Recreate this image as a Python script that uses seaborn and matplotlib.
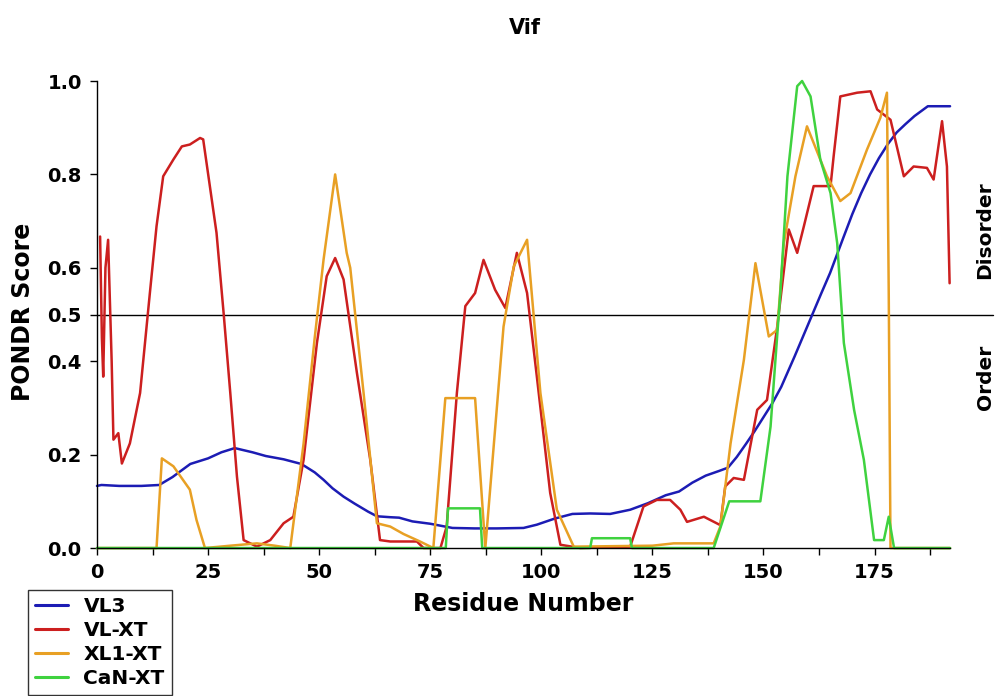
import matplotlib
matplotlib.use("Agg")
import matplotlib.pyplot as plt
import seaborn as sns
import pandas as pd

# ---------------- data ----------------
vl3_x = [0, 1, 5, 10, 14, 17, 21, 25, 28, 31, 35, 38, 42, 46, 49, 51, 53, 55.5, 58, 61, 63, 66, 68, 71, 75,
         80, 85, 90, 96, 99, 103, 107, 111, 115.5, 120, 124, 128, 131, 134, 137, 140, 142, 144, 146, 148,
         150, 152, 154, 157, 159, 161, 163, 165, 168, 170, 172, 174, 176, 178, 180, 182, 184, 187, 190, 192]
vl3_y = [0.133, 0.135, 0.133, 0.133, 0.135, 0.152, 0.18, 0.192, 0.205, 0.214, 0.205, 0.197, 0.19, 0.18,
         0.162, 0.146, 0.128, 0.11, 0.095, 0.078, 0.068, 0.066, 0.065, 0.057, 0.052, 0.043, 0.042, 0.042,
         0.043, 0.05, 0.063, 0.073, 0.074, 0.073, 0.082, 0.096, 0.113, 0.121, 0.14, 0.155, 0.165, 0.172,
         0.195, 0.222, 0.25, 0.28, 0.31, 0.345, 0.41, 0.455, 0.5, 0.545, 0.589, 0.665, 0.715, 0.76, 0.8,
         0.835, 0.865, 0.89, 0.908, 0.925, 0.946, 0.946, 0.946]

vlxt_x = [0.7, 1.1, 1.4, 1.9, 2.5, 2.9, 3.3, 3.7, 4.8, 5.6, 7.4, 9.7, 11.9, 13.4, 14.9, 17.2, 19.1, 20.9,
          23.2, 23.9, 25.4, 26.9, 28.5, 30, 31.5, 33, 36, 39, 42, 44.2, 46.5, 49.5, 51.7, 53.6, 55.5, 58.5,
          61.5, 63.7, 66, 72, 73.5, 77.3, 78.7, 81, 82.9, 85.1, 87, 89.6, 91.9, 94.5, 96.8, 99, 102, 104.3,
          108.8, 120, 123, 126, 129, 131.3, 132.8, 136.6, 140.3, 141.4, 143.3, 145.6, 148.6, 150.8, 153.1,
          155.7, 157.6, 159.1, 161.3, 165.1, 165.8, 167.3, 171.1, 174.1, 175.6, 178.6, 181.6, 183.8, 186.8,
          188.3, 190.2, 191.3, 191.9]
vlxt_y = [0.667, 0.45, 0.367, 0.6, 0.66, 0.53, 0.4, 0.232, 0.246, 0.181, 0.224, 0.332, 0.546, 0.689, 0.796,
          0.832, 0.86, 0.864, 0.878, 0.875, 0.775, 0.675, 0.503, 0.332, 0.153, 0.017, 0.003, 0.017, 0.053,
          0.067, 0.189, 0.439, 0.582, 0.621, 0.575, 0.375, 0.189, 0.017, 0.014, 0.014, 0.0, 0.0, 0.046, 0.332,
          0.518, 0.546, 0.617, 0.553, 0.514, 0.632, 0.546, 0.367, 0.118, 0.007, 0.0, 0.003, 0.089, 0.103,
          0.103, 0.082, 0.056, 0.067, 0.049, 0.132, 0.15, 0.146, 0.296, 0.317, 0.474, 0.682, 0.632, 0.689,
          0.775, 0.775, 0.839, 0.967, 0.975, 0.978, 0.939, 0.917, 0.796, 0.817, 0.814, 0.789, 0.914, 0.817,
          0.567]

xl1_x = [0, 13.4, 14.6, 17.2, 20.9, 22.4, 24.3, 30, 36, 40, 43.5, 46.5, 49, 51, 53.6, 56.2, 57, 60, 63, 66,
         69, 72.7, 75.7, 78.4, 85.1, 87.4, 91.5, 93.8, 96.8, 99.8, 103.5, 107.3, 125, 129.8, 138.8, 140.3,
         142.6, 145.6, 148.2, 151.2, 153.1, 154.6, 157.2, 159.8, 164.3, 167.3, 169.6, 173.3, 176.3, 177.8,
         178.2, 178.6, 192]
xl1_y = [0, 0, 0.192, 0.175, 0.125, 0.06, 0, 0.005, 0.01, 0.005, 0, 0.224, 0.45, 0.618, 0.8, 0.632, 0.6,
         0.332, 0.053, 0.046, 0.03, 0.014, 0, 0.321, 0.321, 0, 0.474, 0.603, 0.66, 0.332, 0.082, 0.003,
         0.005, 0.01, 0.01, 0.046, 0.224, 0.403, 0.61, 0.453, 0.467, 0.653, 0.796, 0.903, 0.796, 0.743,
         0.76, 0.853, 0.921, 0.975, 0.546, 0, 0]

can_x = [0, 78.5, 79, 86.2, 86.7, 111, 111.4, 120, 120.4, 138.8, 142.3, 149.3, 151.6, 153.8, 155.4, 157.6,
         158.7, 160.6, 162.8, 165.1, 166.6, 168.1, 170.4, 172.6, 174.9, 177.1, 178.2, 179.4, 192]
can_y = [0, 0, 0.085, 0.085, 0, 0, 0.021, 0.021, 0, 0, 0.1, 0.1, 0.26, 0.546, 0.796, 0.989, 1.0, 0.967,
         0.832, 0.76, 0.653, 0.439, 0.296, 0.189, 0.017, 0.017, 0.067, 0, 0]

series_names = ["VL3", "VL-XT", "XL1-XT", "CaN-XT"]
colors = ["#1c1cb4", "#cc1f1f", "#e8a024", "#3fd23f"]

x_ticks = [0, 25, 50, 75, 100, 125, 150, 175]
y_ticks = [0.0, 0.2, 0.4, 0.5, 0.6, 0.8, 1.0]
y_tick_labels = ["0.0", "0.2", "0.4", "0.5", "0.6", "0.8", "1.0"]

frames = []
for name, xs, ys in zip(series_names, [vl3_x, vlxt_x, xl1_x, can_x], [vl3_y, vlxt_y, xl1_y, can_y]):
    frames.append(pd.DataFrame({"Residue": xs, "Score": ys, "Predictor": name}))
df = pd.concat(frames, ignore_index=True)

# ---------------- plot ----------------
sns.set_style("white")
plt.rcParams["font.family"] = ["DejaVu Sans"]
plt.rcParams["font.weight"] = "bold"
for key in ["text.color", "axes.labelcolor", "xtick.color", "ytick.color"]:
    plt.rcParams[key] = "black"

fig = plt.figure(figsize=(10.01, 6.96), dpi=100)
ax = fig.add_axes([0.0969, 0.2126, 0.8522, 0.671])

sns.lineplot(data=df, x="Residue", y="Score", hue="Predictor", hue_order=series_names,
             palette=dict(zip(series_names, colors)), estimator=None, sort=False,
             linewidth=1.8, ax=ax, legend=True)
for ln in ax.lines:
    ln.set_clip_on(False)

ax.axhline(0.5, xmin=0, xmax=1.05, color="black", linewidth=1.0, zorder=0, clip_on=False)

ax.set_xlim(0, 192)
ax.set_ylim(0, 1.0)
ax.set_xticks(x_ticks)
ax.set_xticks([12.5 + 25 * i for i in range(8)], minor=True)
ax.set_yticks(y_ticks)
ax.set_yticklabels(y_tick_labels)
ax.tick_params(axis="both", which="both", direction="out", length=5, width=1, color="black",
               bottom=True, left=True, pad=6)
ax.tick_params(axis="both", labelsize=14, labelcolor="black")
for lab in ax.get_xticklabels() + ax.get_yticklabels():
    lab.set_fontweight("bold")

for s in ["top", "right"]:
    ax.spines[s].set_visible(False)
for s in ["left", "bottom"]:
    ax.spines[s].set_color("black")
    ax.spines[s].set_linewidth(1.0)

ax.set_xlabel("Residue Number", fontsize=17, fontweight="bold", color="black")
ax.xaxis.set_label_coords((97 + 950) / 2 / 1001, 1 - 592 / 696, transform=fig.transFigure)
ax.set_ylabel("PONDR Score", fontsize=17, fontweight="bold", color="black")
ax.yaxis.set_label_coords(35 / 1001, 1 - 312 / 696, transform=fig.transFigure)

fig.text(525 / 1001, 1 - 28 / 696, "Vif", ha="center", va="center", fontsize=15, fontweight="bold",
         color="black")

ax.text(1.041, 0.68, "Disorder", transform=ax.transAxes, rotation=90, ha="center", va="center",
        fontsize=14.5, fontweight="bold", color="black")
ax.text(1.041, 0.365, "Order", transform=ax.transAxes, rotation=90, ha="center", va="center",
        fontsize=14.5, fontweight="bold", color="black")

leg = ax.legend(loc="upper left", bbox_to_anchor=(0.028, 0.152), bbox_transform=fig.transFigure,
                frameon=True, fancybox=False, edgecolor="black", fontsize=14.5, handlelength=1.65,
                labelspacing=0.25, borderpad=0.35, handletextpad=0.75, borderaxespad=0)
leg.get_frame().set_linewidth(1.0)
for t in leg.get_texts():
    t.set_fontweight("bold")
    t.set_color("black")
for h in leg.get_lines():
    h.set_linewidth(2.2)

fig.savefig("out.png", dpi=100)
